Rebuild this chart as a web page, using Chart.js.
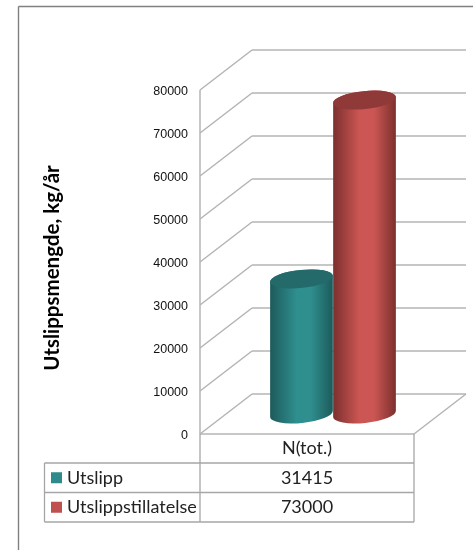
<!DOCTYPE html>
<html>
<head>
<meta charset="utf-8">
<title>Utslipp</title>
<script src="https://cdn.jsdelivr.net/npm/chart.js@4"></script>
<style>
  html, body { margin: 0; padding: 0; background: #fff; }
  canvas { display: block; }
</style>
</head>
<body>
<canvas id="chartUtslipp" width="473" height="550"></canvas>
<script>
const categories = ['N(tot.)'];
const seriesNames = ['Utslipp', 'Utslippstillatelse'];
const utslipp = [31415];
const utslippstillatelse = [73000];
const yMax = 80000;
const yStep = 10000;

const yTitle = 'Utslippsmengde, kg/år';

// dybde i 3d-effekten
const depthX = 52;
const depthY = 40;
const tableBottom = 522;
const rowTop = 463;
const rowH = 29.5;
const tableLeft = 44.5;

const palette = [
  { swatch: '#2e8a8b', top: '#256a6b', edge: '#1d5a5b', mid: '#2f8e8e' },
  { swatch: '#c0504d', top: '#8f3a38', edge: '#7c2f2e', mid: '#cb5653' }
];

function line(ctx, x1, y1, x2, y2) {
  ctx.beginPath();
  ctx.moveTo(x1, y1);
  ctx.lineTo(x2, y2);
  ctx.stroke();
}

function drawWalls(chart) {
  const ctx = chart.ctx;
  const x = chart.scales.x;
  const y = chart.scales.y;
  ctx.save();
  ctx.strokeStyle = '#b4b4b4';
  ctx.lineWidth = 1.5;
  y.ticks.forEach(function(t) {
    const py = y.getPixelForValue(t.value);
    line(ctx, x.left, py, x.left + depthX, py - depthY);
    line(ctx, x.left + depthX, py - depthY, x.right + depthX, py - depthY);
  });
  const y0 = y.getPixelForValue(0);
  line(ctx, x.left, y0, x.right, y0);
  line(ctx, x.right, y0, x.right + depthX, y0 - depthY);
  line(ctx, x.left, y.top, x.left, y0);
  ctx.restore();
}

function drawCylinder(ctx, bar, colors) {
  const rx = bar.width / 2;
  const ry = 9;
  const rot = -0.1;
  const cx = bar.x + depthX / 2;
  const top = bar.y - depthY / 2;
  const bottom = bar.base - depthY / 2;

  const grad = ctx.createLinearGradient(cx - rx, 0, cx + rx, 0);
  grad.addColorStop(0, colors.edge);
  grad.addColorStop(0.42, colors.mid);
  grad.addColorStop(0.65, colors.mid);
  grad.addColorStop(1, colors.edge);

  ctx.save();
  ctx.fillStyle = grad;
  ctx.beginPath();
  ctx.ellipse(cx, bottom, rx, ry, rot, 0, Math.PI);
  ctx.ellipse(cx, top, rx, ry, rot, Math.PI, 0);
  ctx.closePath();
  ctx.fill();
  ctx.fillStyle = colors.top;
  ctx.beginPath();
  ctx.ellipse(cx, top, rx, ry, rot, 0, Math.PI * 2);
  ctx.fill();
  ctx.restore();
}

function drawTable(chart) {
  const ctx = chart.ctx;
  const x = chart.scales.x;
  const y0 = chart.scales.y.getPixelForValue(0);
  const values = [utslipp, utslippstillatelse];
  ctx.save();
  ctx.strokeStyle = '#a6a6a6';
  ctx.lineWidth = 1.3;
  line(ctx, x.left, y0, x.left, tableBottom);
  line(ctx, x.right, y0, x.right, tableBottom);
  line(ctx, tableLeft, rowTop, tableLeft, tableBottom);
  for (let i = 0; i < 3; i++) {
    line(ctx, tableLeft, rowTop + i * rowH, x.right, rowTop + i * rowH);
  }
  ctx.font = '18px Lato';
  ctx.textBaseline = 'middle';
  for (let i = 0; i < seriesNames.length; i++) {
    const my = rowTop + i * rowH + rowH / 2;
    ctx.fillStyle = palette[i].swatch;
    ctx.fillRect(51, my - 5.5, 11, 11);
    ctx.fillStyle = '#222';
    ctx.textAlign = 'left';
    ctx.fillText(seriesNames[i], 67, my);
    ctx.textAlign = 'center';
    ctx.fillText(String(values[i][0]), (x.left + x.right) / 2, my);
  }
  ctx.restore();
}

const plugin3d = {
  id: 'plugin3d',
  beforeDraw: function(chart) {
    const ctx = chart.ctx;
    ctx.save();
    ctx.strokeStyle = '#808080';
    ctx.lineWidth = 1.4;
    line(ctx, 18.5, 6.5, 473, 6.5);
    line(ctx, 18.5, 6.5, 18.5, 550);
    ctx.restore();
  },
  beforeDatasetsDraw: function(chart) {
    drawWalls(chart);
    chart.data.datasets.forEach(function(ds, i) {
      drawCylinder(chart.ctx, chart.getDatasetMeta(i).data[0], palette[i]);
    });
    drawTable(chart);
    return false;
  },
  afterDraw: function(chart) {
    const ctx = chart.ctx;
    ctx.save();
    ctx.translate(52, 268);
    ctx.rotate(-Math.PI / 2);
    ctx.font = 'bold 20.5px Lato';
    ctx.fillStyle = '#000';
    ctx.textAlign = 'center';
    ctx.textBaseline = 'middle';
    ctx.fillText(yTitle, 0, 0);
    ctx.restore();
  }
};

new Chart(document.getElementById('chartUtslipp'), {
  type: 'bar',
  data: {
    labels: categories,
    datasets: [
      { label: seriesNames[0], data: utslipp, backgroundColor: palette[0].swatch },
      { label: seriesNames[1], data: utslippstillatelse, backgroundColor: palette[1].swatch }
    ]
  },
  options: {
    responsive: false,
    animation: false,
    layout: { padding: { top: 90, right: 59, left: 0, bottom: 0 } },
    categoryPercentage: 0.589,
    barPercentage: 1,
    plugins: { legend: { display: false }, title: { display: false }, tooltip: { enabled: false } },
    scales: {
      x: {
        grid: { display: false, drawTicks: false },
        border: { display: false },
        ticks: { color: '#222', font: { family: 'Lato', size: 18 }, padding: 3 },
        afterFit: function(scale) { scale.height = 116; }
      },
      y: {
        min: 0,
        max: yMax,
        grid: { display: false, drawTicks: false },
        border: { display: false },
        ticks: {
          stepSize: yStep,
          color: '#111',
          font: { family: '"Liberation Sans"', size: 12.5 },
          padding: 12,
          labelOffset: 2,
          callback: function(v) { return String(v); }
        },
        afterFit: function(scale) { scale.width = 200; }
      }
    }
  },
  plugins: [plugin3d]
});
</script>
</body>
</html>
